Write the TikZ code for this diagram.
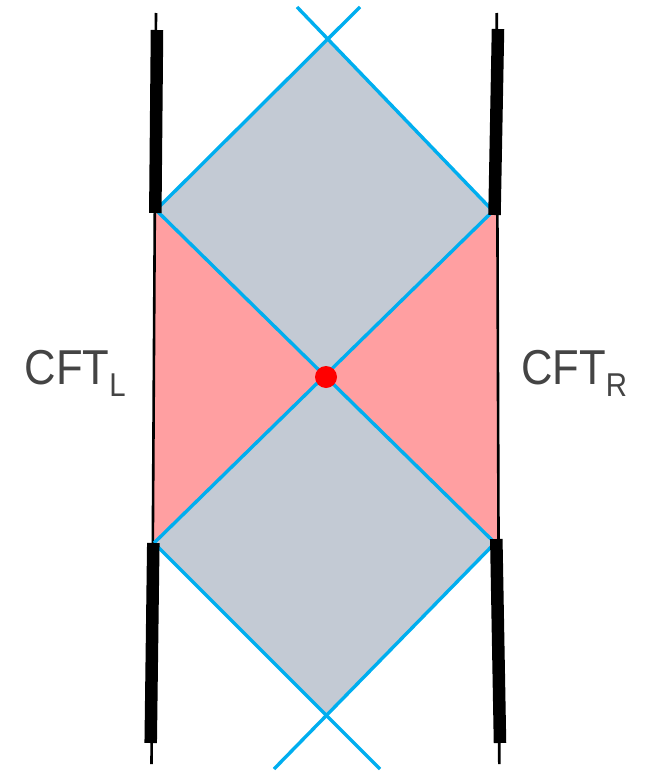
\documentclass[tikz,border=0pt]{standalone}
\usepackage{fontspec}
\newfontfamily\labfont[FakeStretch=0.89]{Liberation Sans}
\definecolor{diagray}{HTML}{C3CAD4}
\definecolor{wedgered}{HTML}{FF9FA1}
\definecolor{lightblue}{HTML}{00AEEF}
\definecolor{labgray}{HTML}{444444}
\tikzset{
  grayfill/.style={fill=diagray, draw=none},
  redfill/.style={fill=wedgered, draw=none},
  nullray/.style={draw=lightblue, line width=3.4pt, line cap=butt},
  thinbdy/.style={draw=black, line width=2.6pt},
  thickbar/.style={draw=black, line width=12.5pt, line cap=butt},
  cftlabel/.style={font=\labfont\fontsize{49}{49}\selectfont, text=labgray, inner sep=0pt, anchor=base west},
  dotstyle/.style={circle, fill=red, draw=none, minimum size=22pt, inner sep=0pt}
}
\newcommand{\cftsub}[1]{\raisebox{-12.7pt}{\fontsize{33}{33}\selectfont #1}}
\begin{document}
\begin{tikzpicture}[x=1pt,y=-1pt]
\useasboundingbox (0,0) rectangle (646,771);
% corners
\coordinate (A) at (328,39);
\coordinate (LT) at (156,210);
\coordinate (RT) at (493,211);
\coordinate (C) at (326,377);
\coordinate (LB) at (154,543);
\coordinate (RB) at (495,543);
\coordinate (B) at (327,716);
% red wedge outer vertices (on the boundaries)
\coordinate (LTr) at (155,212);
\coordinate (LBr) at (153,543);
\coordinate (RTr) at (497,212);
\coordinate (RBr) at (498.5,541);
% ray ends
\coordinate (tl) at (297,7);
\coordinate (tr) at (360,7);
\coordinate (bl) at (274,769);
\coordinate (br) at (380,769);
% boundary ends
\coordinate (Ltop) at (156,13);
\coordinate (Lbot) at (151.5,764);
\coordinate (Rtop) at (496.7,13);
\coordinate (Rbot) at (499.3,764);
% bars
\coordinate (Lb1a) at (157,30);
\coordinate (Lb1b) at (155.3,213);
\coordinate (Lb2a) at (153.3,543);
\coordinate (Lb2b) at (150.7,743);
\coordinate (Rb1a) at (498,29);
\coordinate (Rb1b) at (494.5,215);
\coordinate (Rb2a) at (496.3,539);
\coordinate (Rb2b) at (500,743);

% fills
\fill[redfill] (LTr) -- (LT) -- (C) -- (LB) -- (LBr) -- cycle;
\fill[redfill] (RTr) -- (RT) -- (C) -- (RB) -- (RBr) -- cycle;
\fill[grayfill] (A) -- (RT) -- (C) -- (LT) -- cycle;
\fill[grayfill] (C) -- (RB) -- (B) -- (LB) -- cycle;

% thin boundaries
\draw[thinbdy] (Ltop) -- (Lbot);
\draw[thinbdy] (Rtop) -- (Rbot);

% null rays
\draw[nullray] (tl) -- (RT);
\draw[nullray] (tr) -- (LT);
\draw[nullray] (LT) -- (RB);
\draw[nullray] (RT) -- (LB);
\draw[nullray] (LB) -- (br);
\draw[nullray] (RB) -- (bl);

% thick bars
\draw[thickbar] (Lb1a) -- (Lb1b);
\draw[thickbar] (Lb2a) -- (Lb2b);
\draw[thickbar] (Rb1a) -- (Rb1b);
\draw[thickbar] (Rb2a) -- (Rb2b);

% center dot
\node[dotstyle] (dot) at (C) {};

% labels
\node[cftlabel] (cftL) at (24.5,384) {CFT\cftsub{L}};
\node[cftlabel] (cftR) at (521,384) {CFT\cftsub{R}};
\end{tikzpicture}
\end{document}
